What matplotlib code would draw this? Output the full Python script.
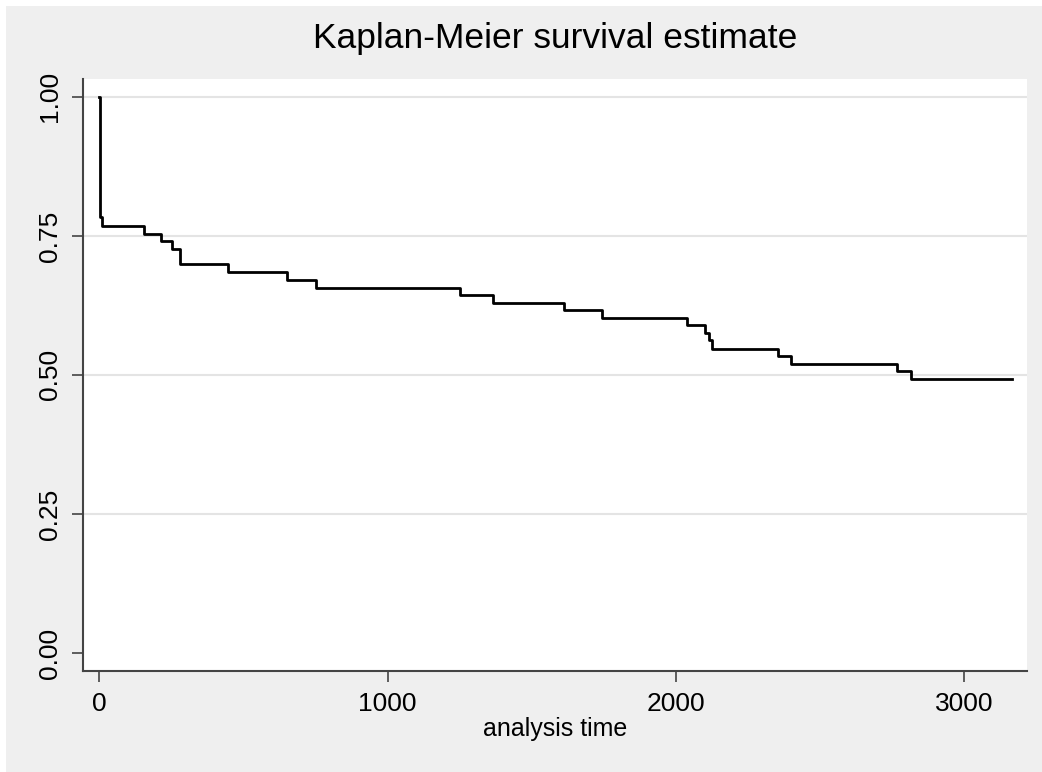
import matplotlib
matplotlib.use("Agg")
import matplotlib.pyplot as plt
from matplotlib.patches import Rectangle

plt.rcParams["font.family"] = ["Liberation Sans", "DejaVu Sans"]

# Kaplan-Meier step estimate
times = [0, 2, 9, 156, 215, 251, 280, 448, 650, 751, 1250, 1365, 1612,
         1745, 2038, 2103, 2117, 2125, 2354, 2400, 2769, 2816, 3168]
survival = [1.0, 0.784, 0.767, 0.754, 0.740, 0.726, 0.700, 0.685, 0.670,
            0.657, 0.643, 0.630, 0.617, 0.603, 0.590, 0.576, 0.562, 0.547,
            0.534, 0.520, 0.507, 0.493, 0.493]

y_ticks = [0.0, 0.25, 0.5, 0.75, 1.0]
y_tick_labels = ["0.00", "0.25", "0.50", "0.75", "1.00"]
x_ticks = [0, 1000, 2000, 3000]

bg = "#efefef"
fig = plt.figure(figsize=(10.42, 7.72), dpi=100, facecolor=bg)
# thin white margin along top and left edges
fig.patches.append(Rectangle((0, 1 - 6 / 772), 1, 6 / 772, transform=fig.transFigure,
                             facecolor="white", edgecolor="none", zorder=-1))
fig.patches.append(Rectangle((0, 0), 6 / 1042, 1, transform=fig.transFigure,
                             facecolor="white", edgecolor="none", zorder=-1))

ax = fig.add_axes([0.0797, 0.1308, 0.906, 0.7668])
ax.set_facecolor("white")

for y in y_ticks[1:]:
    ax.axhline(y, color="#e4e4e4", lw=1.5, zorder=1)

ax.step(times, survival, where="post", color="black", lw=2.0, zorder=3)

ax.set_xlim(-56.6, 3219)
ax.set_ylim(-0.0324, 1.032)
ax.set_yticks(y_ticks)
ax.set_yticklabels(y_tick_labels, rotation=90, va="center")
ax.set_xticks(x_ticks)
ax.tick_params(axis="both", direction="out", length=8, width=1.2, color="#444444",
               labelsize=19, pad=7)

for side in ["top", "right"]:
    ax.spines[side].set_visible(False)
for side in ["left", "bottom"]:
    ax.spines[side].set_color("#444444")
    ax.spines[side].set_linewidth(1.5)

ax.set_xlabel("analysis time", fontsize=18, labelpad=1)
ax.set_title("Kaplan-Meier survival estimate", fontsize=25.5, pad=22)

fig.savefig("out.png", dpi=100, facecolor=bg)
